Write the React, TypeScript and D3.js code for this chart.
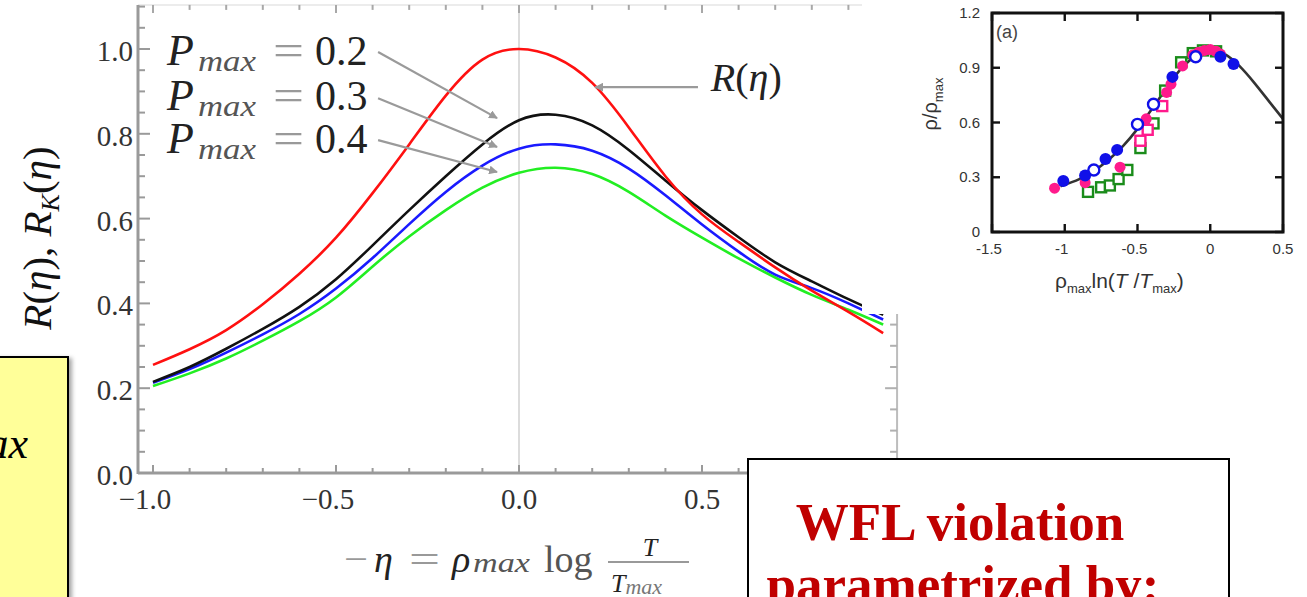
import * as d3 from "d3";
import { useEffect, useRef } from "react";

// main chart: -eta grid and the curves
const etaValues = [-1.0, -0.9, -0.8, -0.7, -0.6, -0.5, -0.4, -0.3, -0.2, -0.1, 0.0, 0.1, 0.2, 0.3, 0.4, 0.5, 0.6, 0.7, 0.8, 0.9, 0.995];
const rValues = [0.255, 0.292, 0.337, 0.398, 0.47, 0.555, 0.66, 0.775, 0.89, 0.975, 1.0, 0.98, 0.92, 0.815, 0.7, 0.61, 0.545, 0.485, 0.43, 0.38, 0.33];
const rk02Values = [0.215, 0.25, 0.293, 0.34, 0.392, 0.457, 0.537, 0.62, 0.7, 0.775, 0.832, 0.845, 0.82, 0.762, 0.69, 0.62, 0.556, 0.497, 0.452, 0.41, 0.373];
const rk03Values = [0.213, 0.245, 0.284, 0.327, 0.375, 0.435, 0.507, 0.587, 0.663, 0.725, 0.765, 0.775, 0.76, 0.718, 0.655, 0.586, 0.522, 0.468, 0.436, 0.4, 0.362];
const rk04Values = [0.205, 0.235, 0.27, 0.312, 0.358, 0.414, 0.487, 0.558, 0.62, 0.673, 0.708, 0.72, 0.705, 0.663, 0.607, 0.555, 0.506, 0.461, 0.42, 0.385, 0.35];
const pmaxLabels = ["0.2", "0.3", "0.4"];
const xTickLabels = ["\u22121.0", "\u22120.5", "0.0", "0.5", "1.0"];
const xMajorTicks = [-1, -0.5, 0, 0.5, 1];
const yTickLabels = ["0.0", "0.2", "0.4", "0.6", "0.8", "1.0"];
const yMajorTicks = [0, 0.2, 0.4, 0.6, 0.8, 1.0];

// inset (a): scaling curve and measured points
const insetCurveX = [-1.03, -0.9, -0.8, -0.7, -0.6, -0.5, -0.4, -0.3, -0.2, -0.1, 0, 0.1, 0.2, 0.3, 0.4, 0.5];
const insetCurveY = [0.25, 0.29, 0.335, 0.395, 0.47, 0.565, 0.675, 0.79, 0.895, 0.965, 0.995, 0.975, 0.91, 0.82, 0.72, 0.62];
const blueFilledX = [-1.01, -0.86, -0.72, -0.64, -0.26, 0.07, 0.16];
const blueFilledY = [0.28, 0.31, 0.4, 0.45, 0.85, 0.96, 0.92];
const blueOpenX = [-0.8, -0.5, -0.39, -0.1];
const blueOpenY = [0.34, 0.59, 0.7, 0.96];
const pinkFilledX = [-1.07, -0.86, -0.62, -0.44, -0.3, -0.27, -0.19, -0.12, -0.08, -0.04, 0, 0.04, 0.07];
const pinkFilledY = [0.24, 0.27, 0.355, 0.62, 0.765, 0.81, 0.91, 0.97, 0.985, 0.995, 1.0, 0.99, 0.975];
const pinkOpenX = [-0.48, -0.43, -0.33];
const pinkOpenY = [0.5, 0.56, 0.69];
const greenOpenX = [-0.84, -0.75, -0.69, -0.63, -0.57, -0.48, -0.39, -0.31, -0.2, -0.12, -0.05, 0.04];
const greenOpenY = [0.22, 0.245, 0.255, 0.29, 0.34, 0.46, 0.595, 0.775, 0.93, 0.98, 0.995, 0.99];
const insetXTicks = [-1.5, -1, -0.5, 0, 0.5];
const insetXLabels = ["-1.5", "-1", "-0.5", "0", "0.5"];
const insetYTicks = [0, 0.3, 0.6, 0.9, 1.2];
const insetYLabels = ["0", "0.3", "0.6", "0.9", "1.2"];

const SERIF = "'Liberation Serif', 'DejaVu Serif', serif";
const SANS = "'Liberation Sans', Arial, sans-serif";
const AXIS_GRAY = "#9a9a9a";

const App = () => {
    const ref = useRef<SVGSVGElement>(null);

    useEffect(() => {
        if (!ref.current) return;
        renderChart(ref.current);
    }, []);

    return (
        <svg ref={ref} width="1307" height="597" style={{ position: "absolute", left: 0, top: 0, background: "#fff" }} />
    );
};

const renderChart = (node: SVGSVGElement) => {
    const svg = d3.select(node);
    svg.selectAll("*").remove();

    const x = d3.scaleLinear().domain([-1, 1]).range([153, 885]);
    const y = d3.scaleLinear().domain([0, 1]).range([473, 49]);
    const xLeft = x(-1.041), xRight = x(1.033), yTop = y(1.104), yBottom = y(0);

    const defs = svg.append("defs");
    defs.append("marker")
        .attr("id", "grayArrow")
        .attr("viewBox", "0 0 10 10")
        .attr("refX", 9).attr("refY", 5)
        .attr("markerWidth", 4).attr("markerHeight", 4)
        .attr("orient", "auto")
        .append("path").attr("d", "M0,0 L10,5 L0,10 z").attr("fill", AXIS_GRAY);
    const shadow = defs.append("filter").attr("id", "boxShadow").attr("x", "-10%").attr("y", "-10%").attr("width", "130%").attr("height", "130%");
    shadow.append("feDropShadow").attr("dx", 3).attr("dy", 2).attr("stdDeviation", 2).attr("flood-color", "#000").attr("flood-opacity", 0.35);

    // frame
    const frame = svg.append("g");
    frame.append("line").attr("x1", x(0)).attr("x2", x(0)).attr("y1", yTop).attr("y2", yBottom)
        .attr("stroke", "#dcdcdc").attr("stroke-width", 2);
    frame.append("line").attr("x1", xLeft).attr("x2", xRight).attr("y1", yTop).attr("y2", yTop)
        .attr("stroke", "#ececec").attr("stroke-width", 2);
    frame.append("line").attr("x1", xRight).attr("x2", xRight).attr("y1", yTop).attr("y2", yBottom)
        .attr("stroke", "#bdbdbd").attr("stroke-width", 2);
    frame.append("line").attr("x1", xLeft).attr("x2", xLeft).attr("y1", yTop).attr("y2", yBottom + 1)
        .attr("stroke", AXIS_GRAY).attr("stroke-width", 3);
    frame.append("line").attr("x1", xLeft).attr("x2", xRight).attr("y1", yBottom).attr("y2", yBottom)
        .attr("stroke", AXIS_GRAY).attr("stroke-width", 3);

    const xMinor = x.ticks(20);
    const yMinor = d3.scaleLinear().domain([0, 1.1]).ticks(22);
    const isMajor = (v: number, majors: number[]) => majors.some(m => Math.abs(m - v) < 1e-6);

    // bottom + top ticks
    xMinor.forEach(v => {
        const len = isMajor(v, xMajorTicks) ? 8 : 5;
        frame.append("line").attr("x1", x(v)).attr("x2", x(v)).attr("y1", yBottom).attr("y2", yBottom - len)
            .attr("stroke", AXIS_GRAY).attr("stroke-width", 2);
        frame.append("line").attr("x1", x(v)).attr("x2", x(v)).attr("y1", yTop).attr("y2", yTop + len)
            .attr("stroke", "#a8a8a8").attr("stroke-width", 2);
    });
    // left + right ticks
    yMinor.forEach(v => {
        const len = isMajor(v, yMajorTicks) ? 12 : 7;
        frame.append("line").attr("x1", xLeft).attr("x2", xLeft + len).attr("y1", y(v)).attr("y2", y(v))
            .attr("stroke", AXIS_GRAY).attr("stroke-width", 2);
        frame.append("line").attr("x1", xRight).attr("x2", xRight - len).attr("y1", y(v)).attr("y2", y(v))
            .attr("stroke", "#b0b0b0").attr("stroke-width", 2);
    });

    // tick labels
    const tickText = svg.append("g").attr("font-family", SERIF).attr("font-size", 29).attr("fill", "#333");
    xMajorTicks.forEach((v, i) => {
        if (i === 4) return; // hidden behind the box
        tickText.append("text").attr("x", x(v) - (xTickLabels[i].startsWith("\u2212") ? 8 : 0)).attr("y", 509)
            .attr("text-anchor", "middle").text(xTickLabels[i]);
    });
    yMajorTicks.forEach((v, i) => {
        tickText.append("text").attr("x", 133).attr("y", y(v) + 12)
            .attr("text-anchor", "end").text(yTickLabels[i]);
    });

    // curves
    const line = d3.line<number>()
        .x((_, i) => x(etaValues[i]))
        .y(d => y(d))
        .curve(d3.curveNatural);
    const series: [number[], string][] = [
        [rk04Values, "#22ee22"],
        [rk03Values, "#1a1aff"],
        [rk02Values, "#111111"],
        [rValues, "#ff1010"],
    ];
    const curves = svg.append("g").attr("fill", "none").attr("stroke-width", 2.6);
    series.forEach(([vals, color]) => {
        curves.append("path").attr("d", line(vals)).attr("stroke", color);
    });

    // P_max annotations
    const annot = svg.append("g").attr("font-family", SERIF).attr("fill", "#222");
    const labelBase = [0.962, 0.856, 0.755];
    const arrowStartY = [0.993, 0.884, 0.785];
    const arrowEndY = [0.837, 0.769, 0.71];
    pmaxLabels.forEach((lab, i) => {
        const x0 = x(-0.962), yb = y(labelBase[i]);
        annot.append("text").attr("x", x0).attr("y", yb).attr("font-size", 44).attr("font-style", "italic").text("P");
        annot.append("text").attr("x", x0 + 31).attr("y", yb + 6).attr("font-size", 29).attr("font-style", "italic")
            .attr("fill", "#555").attr("textLength", 58).attr("lengthAdjust", "spacingAndGlyphs").text("max");
        annot.append("text").attr("x", x0 + 106).attr("y", yb).attr("font-size", 44).attr("fill", "#999")
            .attr("textLength", 31).attr("lengthAdjust", "spacingAndGlyphs").text("=");
        annot.append("text").attr("x", x0 + 148).attr("y", yb).attr("font-size", 42).text(lab);
        annot.append("line")
            .attr("x1", x(-0.385)).attr("y1", y(arrowStartY[i]))
            .attr("x2", x(-0.06)).attr("y2", y(arrowEndY[i]))
            .attr("stroke", AXIS_GRAY).attr("stroke-width", 2.2)
            .attr("marker-end", "url(#grayArrow)");
    });
    annot.append("line")
        .attr("x1", x(0.489)).attr("y1", y(0.91)).attr("x2", x(0.208)).attr("y2", y(0.91))
        .attr("stroke", AXIS_GRAY).attr("stroke-width", 2.2).attr("marker-end", "url(#grayArrow)");
    const rLab = annot.append("text").attr("x", x(0.524)).attr("y", y(0.9)).attr("font-size", 40);
    rLab.append("tspan").attr("font-style", "italic").text("R");
    rLab.append("tspan").text("(");
    rLab.append("tspan").attr("font-style", "italic").text("\u03b7");
    rLab.append("tspan").text(")");

    // y axis title
    const yTitle = svg.append("text").attr("font-family", SERIF).attr("font-size", 41).attr("fill", "#111")
        .attr("text-anchor", "middle").attr("transform", "translate(51,238) rotate(-90)");
    yTitle.append("tspan").attr("font-style", "italic").text("R");
    yTitle.append("tspan").text("(");
    yTitle.append("tspan").attr("font-style", "italic").text("\u03b7");
    yTitle.append("tspan").text("), ");
    yTitle.append("tspan").attr("font-style", "italic").text("R");
    yTitle.append("tspan").attr("font-style", "italic").attr("font-size", 26).attr("dy", 8).text("K");
    yTitle.append("tspan").attr("dy", -8).text("(");
    yTitle.append("tspan").attr("font-style", "italic").text("\u03b7");
    yTitle.append("tspan").text(")");

    // x axis title, pieces placed one by one
    const xTitle = svg.append("g").attr("font-family", SERIF).attr("fill", "#222").attr("font-size", 38);
    xTitle.append("text").attr("x", 344).attr("y", 572).attr("fill", "#999")
        .attr("textLength", 24).attr("lengthAdjust", "spacingAndGlyphs").text("\u2212");
    xTitle.append("text").attr("x", 374).attr("y", 572).attr("font-style", "italic").text("\u03b7");
    xTitle.append("text").attr("x", 409).attr("y", 572).attr("fill", "#999")
        .attr("textLength", 31).attr("lengthAdjust", "spacingAndGlyphs").text("=");
    xTitle.append("text").attr("x", 452).attr("y", 572).attr("font-style", "italic").text("\u03c1");
    xTitle.append("text").attr("x", 473).attr("y", 572).attr("font-style", "italic").attr("font-size", 28)
        .attr("fill", "#555").attr("textLength", 57).attr("lengthAdjust", "spacingAndGlyphs").text("max");
    xTitle.append("text").attr("x", 544).attr("y", 572).attr("fill", "#555").text("log");
    xTitle.append("line").attr("x1", 608).attr("x2", 689).attr("y1", 562).attr("y2", 562)
        .attr("stroke", "#999").attr("stroke-width", 2);
    xTitle.append("text").attr("x", 650).attr("y", 556).attr("font-size", 26).attr("font-style", "italic")
        .attr("text-anchor", "middle").text("T");
    const den = xTitle.append("text").attr("x", 611).attr("y", 592).attr("font-size", 26).attr("font-style", "italic");
    den.append("tspan").text("T");
    den.append("tspan").attr("font-size", 22).attr("dy", 2).attr("fill", "#777").text("max");

    // inset (a)
    const inset = svg.append("g");
    inset.append("rect").attr("x", 862).attr("y", 0).attr("width", 445).attr("height", 314).attr("fill", "#fff");
    const ix = d3.scaleLinear().domain([-1.5, 0.5]).range([992, 1283]);
    const iy = d3.scaleLinear().domain([0, 1.2]).range([232, 13]);

    const iLine = d3.line<number>()
        .x((_, i) => ix(insetCurveX[i]))
        .y(d => iy(d))
        .curve(d3.curveNatural);
    inset.append("path").attr("d", iLine(insetCurveY)).attr("fill", "none")
        .attr("stroke", "#333").attr("stroke-width", 2.6);

    const markers = inset.append("g");
    greenOpenX.forEach((v, i) => {
        markers.append("rect").attr("x", ix(v) - 5).attr("y", iy(greenOpenY[i]) - 5)
            .attr("width", 10).attr("height", 10).attr("fill", "#fff")
            .attr("stroke", "#1a8c1a").attr("stroke-width", 2.4);
    });
    pinkOpenX.forEach((v, i) => {
        markers.append("rect").attr("x", ix(v) - 5).attr("y", iy(pinkOpenY[i]) - 5)
            .attr("width", 10).attr("height", 10).attr("fill", "#fff")
            .attr("stroke", "#ff1a8c").attr("stroke-width", 2.4);
    });
    pinkFilledX.forEach((v, i) => {
        markers.append("circle").attr("cx", ix(v)).attr("cy", iy(pinkFilledY[i])).attr("r", 5.5)
            .attr("fill", "#ff1a8c");
    });
    blueOpenX.forEach((v, i) => {
        markers.append("circle").attr("cx", ix(v)).attr("cy", iy(blueOpenY[i])).attr("r", 5.5)
            .attr("fill", "#fff").attr("stroke", "#1010e8").attr("stroke-width", 2.4);
    });
    blueFilledX.forEach((v, i) => {
        markers.append("circle").attr("cx", ix(v)).attr("cy", iy(blueFilledY[i])).attr("r", 6)
            .attr("fill", "#1010e8");
    });

    // inset frame and ticks
    inset.append("rect").attr("x", ix(-1.5)).attr("y", iy(1.2))
        .attr("width", ix(0.5) - ix(-1.5)).attr("height", iy(0) - iy(1.2))
        .attr("fill", "none").attr("stroke", "#111").attr("stroke-width", 3);
    insetXTicks.forEach((v, i) => {
        inset.append("line").attr("x1", ix(v)).attr("x2", ix(v)).attr("y1", iy(0)).attr("y2", iy(0) - 8)
            .attr("stroke", "#111").attr("stroke-width", 2.4);
        inset.append("line").attr("x1", ix(v)).attr("x2", ix(v)).attr("y1", iy(1.2)).attr("y2", iy(1.2) + 8)
            .attr("stroke", "#111").attr("stroke-width", 2.4);
        inset.append("text").attr("x", ix(v) - (v < 0 ? 3 : 0)).attr("y", 254).attr("text-anchor", "middle")
            .attr("font-family", SANS).attr("font-size", 15).attr("fill", "#333").text(insetXLabels[i]);
    });
    insetYTicks.forEach((v, i) => {
        inset.append("line").attr("x1", ix(-1.5)).attr("x2", ix(-1.5) + 8).attr("y1", iy(v)).attr("y2", iy(v))
            .attr("stroke", "#111").attr("stroke-width", 2.4);
        inset.append("line").attr("x1", ix(0.5)).attr("x2", ix(0.5) - 8).attr("y1", iy(v)).attr("y2", iy(v))
            .attr("stroke", "#111").attr("stroke-width", 2.4);
        inset.append("text").attr("x", 980).attr("y", iy(v) + 5).attr("text-anchor", "end")
            .attr("font-family", SANS).attr("font-size", 15).attr("fill", "#333").text(insetYLabels[i]);
    });
    inset.append("text").attr("x", 996).attr("y", 38).attr("font-family", SANS).attr("font-size", 18)
        .attr("fill", "#444").text("(a)");
    const ixt = inset.append("text").attr("x", 1055).attr("y", 288).attr("font-family", SANS)
        .attr("font-size", 21).attr("fill", "#333");
    ixt.append("tspan").text("\u03c1");
    ixt.append("tspan").attr("font-size", 13).attr("dy", 5).text("max");
    ixt.append("tspan").attr("dy", -5).text("ln(");
    ixt.append("tspan").attr("font-style", "italic").text("T");
    ixt.append("tspan").text(" /");
    ixt.append("tspan").attr("font-style", "italic").text("T");
    ixt.append("tspan").attr("font-size", 13).attr("dy", 5).text("max");
    ixt.append("tspan").attr("dy", -5).text(")");
    const iyt = inset.append("text").attr("font-family", SANS).attr("font-size", 20).attr("fill", "#333")
        .attr("text-anchor", "middle").attr("transform", "translate(937,104) rotate(-90)");
    iyt.append("tspan").text("\u03c1/\u03c1");
    iyt.append("tspan").attr("font-size", 13).attr("dy", 6).text("max");

    // yellow note box (cut at left)
    const note = svg.append("g");
    note.append("rect").attr("x", -10).attr("y", 357).attr("width", 78).attr("height", 260)
        .attr("fill", "#ffff99").attr("stroke", "#000").attr("stroke-width", 2).attr("filter", "url(#boxShadow)");
    note.append("text").attr("x", 28).attr("y", 458).attr("text-anchor", "end").attr("font-family", SERIF)
        .attr("font-size", 44).attr("font-style", "italic").attr("fill", "#000").text("max");

    // WFL text box
    const box = svg.append("g");
    box.append("rect").attr("x", 748).attr("y", 459).attr("width", 481).attr("height", 200)
        .attr("fill", "#fff").attr("stroke", "#000").attr("stroke-width", 2);
    box.append("text").attr("x", 960).attr("y", 540).attr("text-anchor", "middle").attr("font-family", SERIF)
        .attr("font-weight", "bold").attr("font-size", 53).attr("fill", "#c00000").text("WFL violation");
    box.append("text").attr("x", 963).attr("y", 602).attr("text-anchor", "middle").attr("font-family", SERIF)
        .attr("font-weight", "bold").attr("font-size", 53).attr("fill", "#c00000").text("parametrized by:");
};

export default App;
